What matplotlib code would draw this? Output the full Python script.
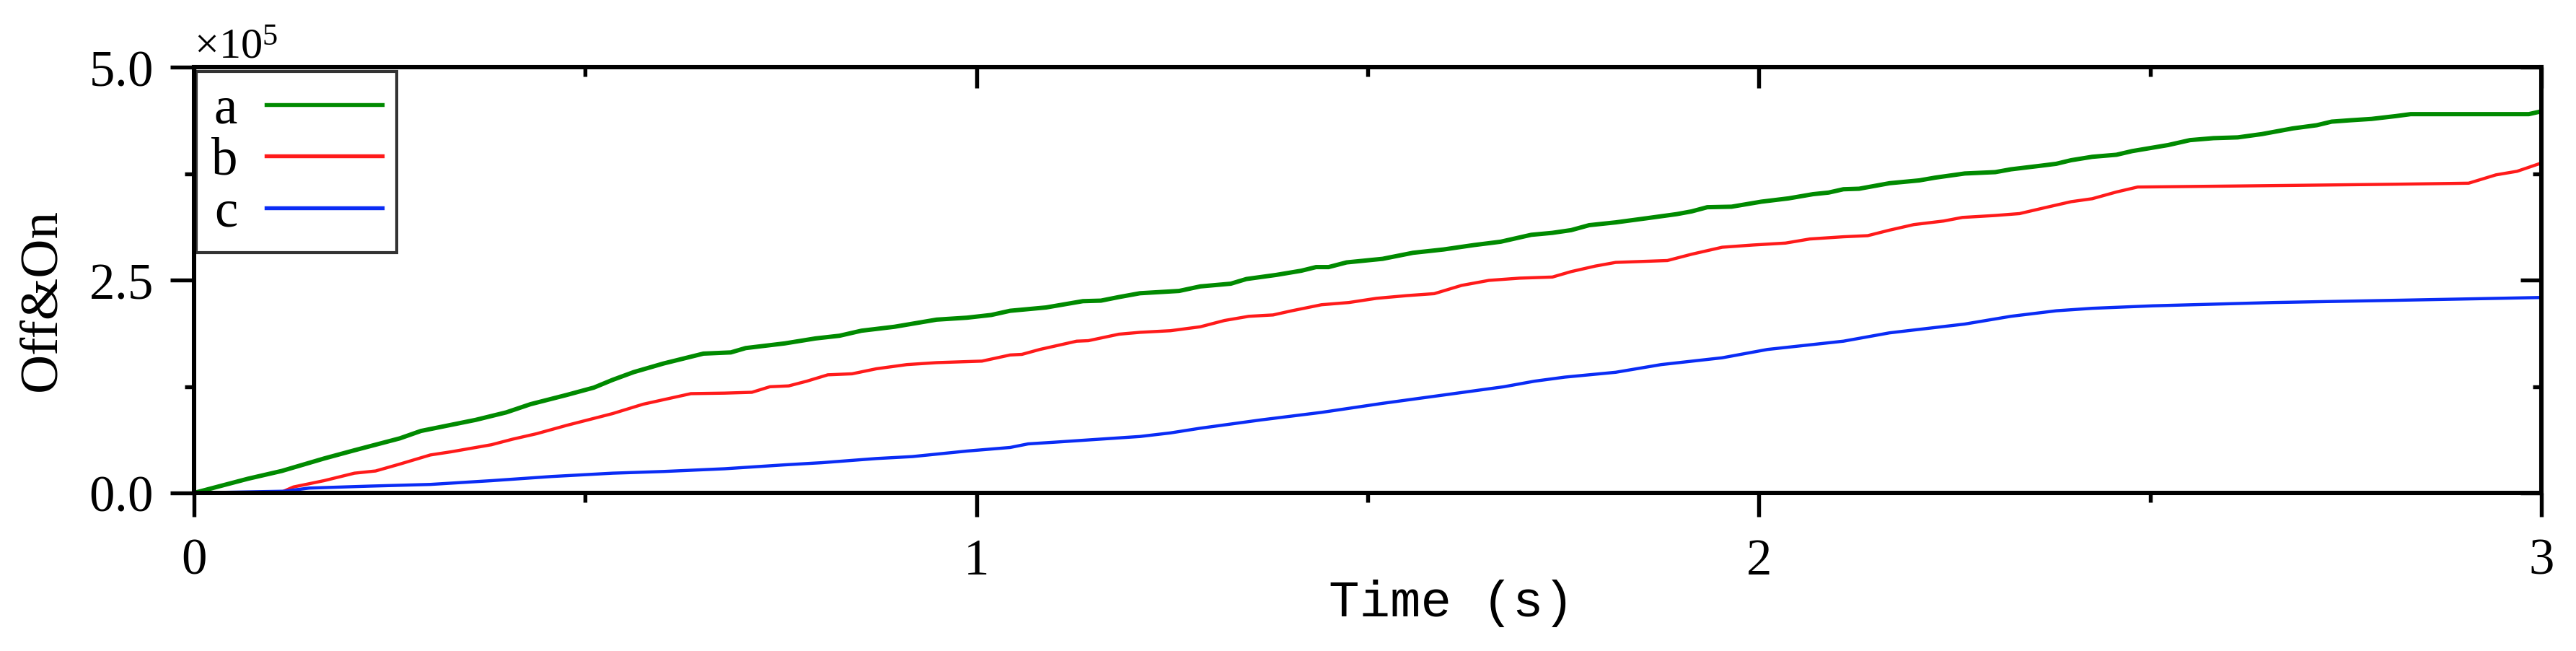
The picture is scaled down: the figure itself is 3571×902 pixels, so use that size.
import numpy as np
import matplotlib
matplotlib.use('Agg')
import matplotlib.pyplot as plt
from matplotlib.ticker import MultipleLocator, ScalarFormatter, NullFormatter

# data (time in s, counts)
t_a = [0, 0.069, 0.112, 0.166, 0.205, 0.263, 0.290, 0.360, 0.399, 0.430, 0.476, 0.511, 0.535, 0.562,
       0.600, 0.651, 0.686, 0.705, 0.755, 0.794, 0.825, 0.853, 0.895, 0.949, 0.988, 1.019, 1.043, 1.089,
       1.136, 1.159, 1.182, 1.209, 1.259, 1.286, 1.325, 1.345, 1.383, 1.415, 1.434, 1.450, 1.473, 1.519,
       1.558, 1.597, 1.636, 1.670, 1.709, 1.736, 1.760, 1.783, 1.817, 1.856, 1.895, 1.914, 1.934, 1.965,
       2.003, 2.038, 2.069, 2.089, 2.108, 2.128, 2.167, 2.205, 2.225, 2.263, 2.302, 2.322, 2.360, 2.380,
       2.399, 2.426, 2.457, 2.477, 2.523, 2.551, 2.581, 2.612, 2.643, 2.682, 2.713, 2.732, 2.756, 2.783,
       2.814, 2.833, 2.984, 3.0]
y_a = [0.0, 0.167, 0.258, 0.404, 0.501, 0.641, 0.728, 0.858, 0.946, 1.042, 1.150, 1.237, 1.328, 1.419,
       1.520, 1.636, 1.650, 1.701, 1.756, 1.814, 1.846, 1.905, 1.951, 2.035, 2.058, 2.090, 2.139, 2.178,
       2.252, 2.258, 2.300, 2.345, 2.372, 2.425, 2.457, 2.512, 2.560, 2.609, 2.652, 2.652, 2.707, 2.749,
       2.820, 2.859, 2.911, 2.950, 3.031, 3.054, 3.086, 3.144, 3.177, 3.225, 3.274, 3.306, 3.355, 3.361,
       3.420, 3.459, 3.508, 3.527, 3.566, 3.572, 3.637, 3.670, 3.702, 3.751, 3.767, 3.800, 3.842, 3.865,
       3.907, 3.947, 3.971, 4.014, 4.085, 4.143, 4.166, 4.175, 4.214, 4.280, 4.318, 4.360, 4.376, 4.392,
       4.425, 4.448, 4.448, 4.481]

t_b = [0, 0.112, 0.127, 0.166, 0.205, 0.232, 0.263, 0.302, 0.329, 0.380, 0.407, 0.438, 0.476, 0.535,
       0.574, 0.600, 0.635, 0.678, 0.713, 0.736, 0.760, 0.783, 0.810, 0.841, 0.872, 0.911, 0.949, 1.007,
       1.043, 1.058, 1.081, 1.128, 1.143, 1.182, 1.209, 1.248, 1.286, 1.317, 1.348, 1.379, 1.403, 1.441,
       1.476, 1.511, 1.550, 1.585, 1.620, 1.655, 1.694, 1.736, 1.760, 1.791, 1.817, 1.883, 1.914, 1.953,
       1.992, 2.034, 2.065, 2.108, 2.139, 2.167, 2.198, 2.236, 2.260, 2.302, 2.333, 2.368, 2.399, 2.426,
       2.457, 2.484, 2.620, 2.814, 2.907, 2.942, 2.969, 3.0]
y_b = [0, 0.01, 0.07, 0.144, 0.232, 0.258, 0.339, 0.446, 0.484, 0.566, 0.631, 0.696, 0.793, 0.932,
       1.042, 1.095, 1.166, 1.172, 1.182, 1.247, 1.257, 1.312, 1.387, 1.399, 1.458, 1.507, 1.530, 1.548,
       1.620, 1.627, 1.685, 1.782, 1.788, 1.864, 1.886, 1.905, 1.951, 2.025, 2.074, 2.090, 2.139, 2.210,
       2.236, 2.285, 2.317, 2.340, 2.437, 2.496, 2.522, 2.535, 2.599, 2.664, 2.707, 2.729, 2.803, 2.885,
       2.911, 2.934, 2.982, 3.008, 3.021, 3.086, 3.151, 3.193, 3.235, 3.258, 3.280, 3.355, 3.420, 3.455,
       3.534, 3.592, 3.605, 3.625, 3.637, 3.735, 3.777, 3.874]

t_c = [0, 0.115, 0.147, 0.224, 0.302, 0.380, 0.457, 0.535, 0.600, 0.678, 0.755, 0.802, 0.872, 0.918,
       0.988, 1.043, 1.066, 1.105, 1.209, 1.248, 1.286, 1.364, 1.441, 1.519, 1.597, 1.674, 1.713, 1.752,
       1.817, 1.875, 1.953, 2.011, 2.108, 2.167, 2.263, 2.322, 2.380, 2.426, 2.503, 2.658, 2.814, 3.0]
y_c = [0, 0.02, 0.057, 0.08, 0.10, 0.144, 0.193, 0.232, 0.252, 0.284, 0.330, 0.355, 0.404, 0.427,
       0.492, 0.534, 0.576, 0.599, 0.663, 0.705, 0.760, 0.858, 0.946, 1.052, 1.150, 1.247, 1.312, 1.360,
       1.417, 1.507, 1.587, 1.685, 1.782, 1.880, 1.983, 2.074, 2.139, 2.168, 2.197, 2.236, 2.262, 2.295]

labels = ['a', 'b', 'c']
colors = ['#008a00', '#ff1a1a', '#0a2cf5']

plt.rcParams['font.family'] = ['Liberation Serif', 'DejaVu Serif']
plt.rcParams['mathtext.fontset'] = 'custom'
plt.rcParams['mathtext.rm'] = 'Liberation Serif'

fig = plt.figure(figsize=(3571 / 300, 902 / 300), dpi=300)
ax = fig.add_axes([269 / 3571, 1 - 683 / 902, (3523 - 269) / 3571, (683 - 93) / 902])

scale = 1e5
ax.plot(t_a, np.array(y_a) * scale, color=colors[0], lw=1.45, label=labels[0])
ax.plot(t_b, np.array(y_b) * scale, color=colors[1], lw=1.05, label=labels[1])
ax.plot(t_c, np.array(y_c) * scale, color=colors[2], lw=1.05, label=labels[2])

ax.set_xlim(0, 3)
ax.set_ylim(0, 5e5)
ax.xaxis.set_major_locator(MultipleLocator(1))
ax.xaxis.set_minor_locator(MultipleLocator(0.5))
ax.yaxis.set_major_locator(MultipleLocator(2.5e5))
ax.yaxis.set_minor_locator(MultipleLocator(1.25e5))

fmt = ScalarFormatter(useMathText=True)
fmt.set_powerlimits((-3, 3))
ax.yaxis.set_major_formatter(fmt)
ax.yaxis.get_offset_text().set_fontsize(14.5)

for sp in ax.spines.values():
    sp.set_linewidth(1.45)

ax.tick_params(which='major', direction='out', length=8, width=1.3, labelsize=17, pad=6)
ax.tick_params(which='minor', direction='out', length=3.2, width=1.3)
ax.tick_params(top=False, right=False, which='both')
ax.tick_params(axis='x', which='major', pad=7)

# inward ticks on top and right
top = ax.secondary_xaxis('top')
top.xaxis.set_major_locator(MultipleLocator(1))
top.xaxis.set_minor_locator(MultipleLocator(0.5))
top.xaxis.set_major_formatter(NullFormatter())
top.tick_params(which='major', direction='in', length=7, width=1.3)
top.tick_params(which='minor', direction='in', length=3, width=1.3)
top.spines['top'].set_linewidth(1.45)

right = ax.secondary_yaxis('right')
right.yaxis.set_major_locator(MultipleLocator(2.5e5))
right.yaxis.set_minor_locator(MultipleLocator(1.25e5))
right.yaxis.set_major_formatter(NullFormatter())
right.tick_params(which='major', direction='in', length=7, width=1.3)
right.tick_params(which='minor', direction='in', length=3, width=1.3)
right.spines['right'].set_linewidth(1.45)

ax.set_ylabel('Off&On', fontsize=18)
ax.yaxis.set_label_coords(-0.0544, 0.454)
ax.set_xlabel('Time (s)', fontsize=17, family=['Liberation Mono', 'DejaVu Sans Mono'])
ax.xaxis.set_label_coords(0.5356, -0.203)

leg = ax.legend(loc='upper left', bbox_to_anchor=(0.001, 0.99), borderaxespad=0,
                markerfirst=False, fontsize=17.5, handlelength=2.2, handletextpad=0.55,
                labelspacing=0.05, borderpad=0.28, fancybox=False, frameon=True)
leg.get_frame().set_edgecolor('black')
leg.get_frame().set_linewidth(1.0)
for line in leg.get_lines():
    line.set_linewidth(1.3)

fig.savefig('out.png', dpi=300)
